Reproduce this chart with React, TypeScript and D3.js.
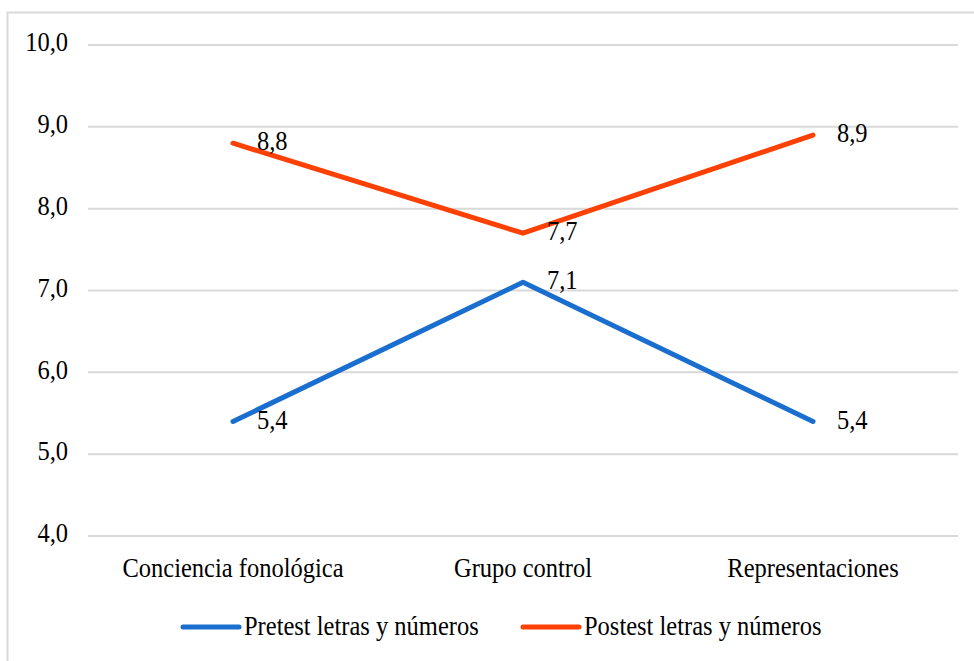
import React from "react";
import * as d3 from "d3";

const categories = ["Conciencia fonológica", "Grupo control", "Representaciones"];
const pretest = [5.4, 7.1, 5.4];
const postest = [8.8, 7.7, 8.9];
const yTicks = [4, 5, 6, 7, 8, 9, 10];
const seriesNames = ["Pretest letras y números", "Postest letras y números"];

const W = 974;
const H = 661;
const FONT = "Liberation Serif, Tinos, Times New Roman, serif";
const BLUE = "#1a6fce";
const ORANGE = "#fd4104";

const fmt = (v: number) => v.toFixed(1).replace(".", ",");

export default function App() {
  const x = d3.scalePoint<string>().domain(categories).range([88, 958]).padding(0.5);
  const y = d3.scaleLinear().domain([4, 10]).range([536, 45]);
  const line = d3
    .line<number>()
    .x((_, i) => x(categories[i]) as number)
    .y((d) => y(d));

  const series = [
    { name: seriesNames[0], values: pretest, color: BLUE },
    { name: seriesNames[1], values: postest, color: ORANGE },
  ];

  const txt = (tx: number, ty: number) => `translate(${tx},${ty}) scale(1,1.1)`;
  const ts: React.CSSProperties = { fontFamily: FONT, fontSize: "24.5px" };

  return (
    <svg
      width={W}
      height={H}
      style={{ position: "absolute", left: 0, top: 0, background: "#fff" }}
    >
      <rect x={7.5} y={12.5} width={W + 10} height={H + 10} fill="#fff" stroke="#d9d9d9" strokeWidth={2} />

      {yTicks.map((t) => (
        <g key={t}>
          <line x1={88} x2={958} y1={y(t)} y2={y(t)} stroke="#d9d9d9" strokeWidth={2} />
          <text transform={txt(68, y(t))} textAnchor="end" dominantBaseline="middle" style={ts} fill="#000">
            {fmt(t)}
          </text>
        </g>
      ))}

      {categories.map((c) => (
        <text key={c} transform={txt(x(c) as number, 577)} textAnchor="middle" style={ts} fill="#000">
          {c}
        </text>
      ))}

      {series.map((s) => (
        <path
          key={s.name}
          d={line(s.values) || ""}
          fill="none"
          stroke={s.color}
          strokeWidth={5}
          strokeLinecap="round"
          strokeLinejoin="round"
        />
      ))}

      {series.map((s) =>
        s.values.map((v, i) => (
          <text
            key={s.name + i}
            transform={txt((x(categories[i]) as number) + 24, y(v) + 1)}
            dominantBaseline="middle"
            style={ts}
            fill="#000"
          >
            {fmt(v)}
          </text>
        ))
      )}

      {series.map((s, i) => {
        const lx = i === 0 ? 183 : 523;
        return (
          <g key={s.name}>
            <line x1={lx} x2={lx + 56} y1={627} y2={627} stroke={s.color} strokeWidth={5} strokeLinecap="round" />
            <text transform={txt(lx + 61, 635)} style={ts} fill="#000">
              {s.name}
            </text>
          </g>
        );
      })}
    </svg>
  );
}
